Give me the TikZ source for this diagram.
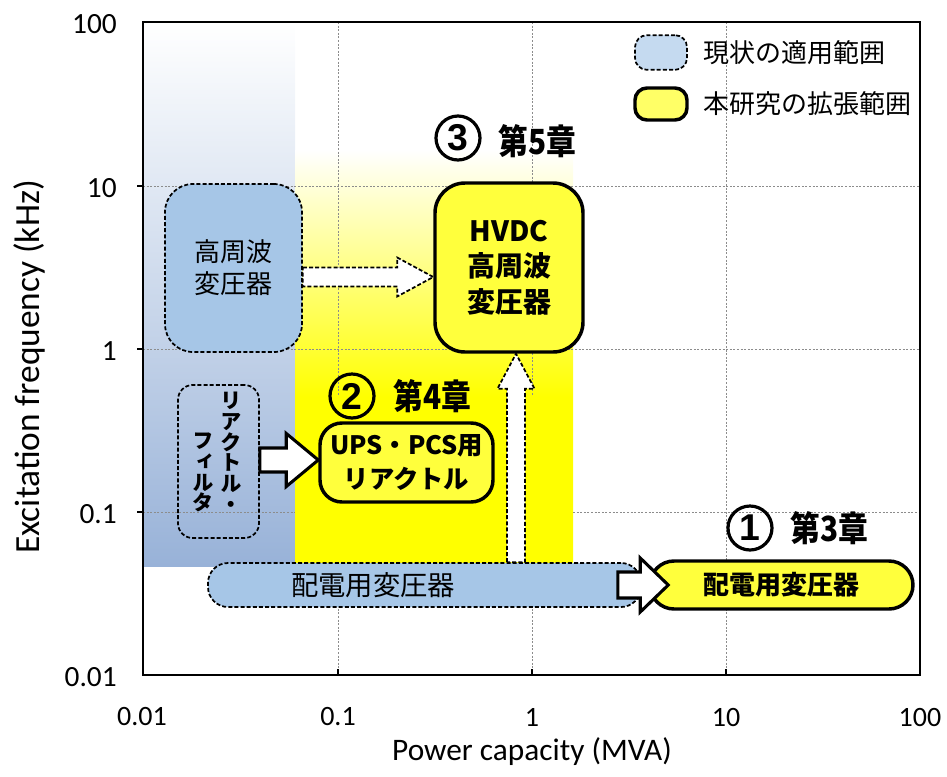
\documentclass[tikz,border=0pt]{standalone}
\usepackage{fontspec}
\usepackage{graphicx}
\setmainfont{Carlito}
\newfontfamily\jp{Noto Sans CJK JP}
\newfontfamily\jpv[RawFeature=+vert]{Noto Sans CJK JP}
\newfontfamily\arialf{Liberation Sans}
\usetikzlibrary{calc}
\newcommand{\setfs}[2]{\fontsize{#1}{#2}\selectfont}
\definecolor{boxblue}{RGB}{166,198,231}
\definecolor{legblue}{RGB}{197,218,240}
\definecolor{regblue}{RGB}{152,178,216}
\definecolor{boxyel}{RGB}{255,255,60}
\definecolor{legyel}{RGB}{255,255,102}
\definecolor{gridc}{RGB}{140,140,140}
\pgfdeclareverticalshading{yreg}{100bp}{color(0bp)=(yellow); color(25bp)=(yellow); color(45bp)=(yellow); color(75bp)=(white); color(100bp)=(white)}
% block arrow to the right: style, start, tip, shaft half, head half, head length
\newcommand{\rarrow}[6]{\draw[#1] let \p1=(#2), \p2=(#3) in
  (\x1,\y1+#4) -- (\x2-#6,\y1+#4) -- (\x2-#6,\y1+#5) -- (\x2,\y1) --
  (\x2-#6,\y1-#5) -- (\x2-#6,\y1-#4) -- (\x1,\y1-#4) -- cycle;}
% block arrow upwards
\newcommand{\uarrow}[6]{\draw[#1] let \p1=(#2), \p2=(#3) in
  (\x1-#4,\y1) -- (\x1-#4,\y2-#6) -- (\x1-#5,\y2-#6) -- (\x1,\y2) --
  (\x1+#5,\y2-#6) -- (\x1+#4,\y2-#6) -- (\x1+#4,\y1) -- cycle;}
\begin{document}
\begin{tikzpicture}[x=0.75pt,y=-0.75pt,
  gridline/.style={draw=gridc, line width=0.6pt, dash pattern=on 1.5pt off 1.2pt},
  curbox/.style={draw=black, line width=1.3pt, dash pattern=on 3pt off 1.6pt, fill=boxblue, inner sep=0pt, align=center},
  newbox/.style={draw=black, line width=2.6pt, fill=boxyel, inner sep=0pt, align=center},
  dasharrow/.style={draw=black, line width=1.3pt, dash pattern=on 3pt off 1.6pt, fill=white, line join=miter},
  solidarrow/.style={draw=black, line width=2.3pt, fill=white, line join=miter},
  circ/.style={circle, draw=black, line width=2.4pt, minimum size=33pt, inner sep=0pt, font=\arialf\bfseries\setfs{28}{28}},
  chap/.style={anchor=west, inner sep=0pt, font=\jp\bfseries\setfs{26}{26}},
  ytick/.style={anchor=east, inner sep=0pt, font=\setfs{22}{22}},
  xtick/.style={anchor=center, inner sep=0pt, font=\setfs{21}{21}},
  legtext/.style={anchor=west, inner sep=0pt, font=\jp\setfs{19.5}{19.5}}]
\useasboundingbox (0,0) rectangle (947,776);
% regions
\shade[top color=white, bottom color=regblue] (143,22) rectangle (295,566);
\shade[shading=yreg] (295,150) rectangle (573,562);
% grid
\foreach \gx in {338,532} {\draw[gridline] (\gx,22) -- (\gx,395); \draw[gridline] (\gx,562) -- (\gx,675);}
\draw[gridline] (726,22) -- (726,675);
\foreach \gy in {186,349} \draw[gridline] (143,\gy) -- (920,\gy);
\draw[gridline] (143,512) -- (295,512);
\draw[gridline] (573,512) -- (920,512);
% frame and ticks
\draw[line width=1.1pt] (143,22) rectangle (920,675);
\foreach \gy in {186,349,512} \draw[line width=1.1pt] (137,\gy) -- (143,\gy);
\foreach \gx in {338,532,726} \draw[line width=1.1pt] (\gx,675) -- (\gx,669);
% tick labels
\node[ytick] (y100) at (117,24) {100};
\node[ytick] (y10) at (117,188) {10};
\node[ytick] (y1) at (117,351) {1};
\node[ytick] (y01) at (117,514) {0.1};
\node[ytick] (y001) at (117,677) {0.01};
\node[xtick] (x001) at (142,717) {0.01};
\node[xtick] (x01) at (338,717) {0.1};
\node[xtick] (x1) at (532,717) {1};
\node[xtick] (x10) at (726,717) {10};
\node[xtick] (x100) at (920,717) {100};
\node[inner sep=0pt, font=\setfs{23.5}{23.5}] (xlab) at (532,752) {Power capacity (MVA)};
\node[inner sep=0pt, font=\setfs{26.5}{26.5}, rotate=90] (ylab) at (29,367) {Excitation frequency (kHz)};
% legend
\node[curbox, fill=legblue, minimum width=39pt, minimum height=26pt, rounded corners=9pt] (leg1) at (661,52.5) {};
\node[newbox, fill=legyel, minimum width=39pt, minimum height=24pt, rounded corners=9pt] (leg2) at (661,104) {};
\node[legtext] (leg1t) at (703,52.5) {現状の適用範囲};
\node[legtext] (leg2t) at (703,104) {本研究の拡張範囲};
% boxes
\node[curbox, minimum width=102.75pt, minimum height=126pt, rounded corners=21pt,
      font=\jp\setfs{19.5}{24}] (hf) at (233.5,268) {高周波\\変圧器};
\node[newbox, minimum width=111pt, minimum height=126.75pt, rounded corners=22.5pt,
      font=\jp\bfseries\setfs{21}{26.5}] (hvdc) at (509,267.5) {HVDC\\高周波\\変圧器};
\node[curbox, fill=none, minimum width=60.75pt, minimum height=114.75pt, rounded corners=11pt] (rf) at (218.5,461.5) {};
\node[anchor=north, inner sep=0pt, align=center, font=\jpv\bfseries\setfs{16}{15.5}] (rfr) at (231,392) {リ\\ア\\ク\\ト\\ル\\・};
\node[anchor=north, inner sep=0pt, align=center, font=\jpv\bfseries\setfs{16}{15.5}] (rfl) at (203,433) {フ\\ィ\\ル\\タ};
\node[newbox, minimum width=129.75pt, minimum height=59.25pt, rounded corners=16.5pt,
      font=\jp\bfseries\setfs{19}{26}] (ups) at (406.5,462.5) {UPS・PCS用\\リアクトル};
\node[curbox, minimum width=324.75pt, minimum height=33pt, rounded corners=15pt,
      font=\jp\setfs{20.5}{20.5}] (ds) at (424.5,585) {\hspace*{-77pt}配電用変圧器};
\node[newbox, minimum width=197.25pt, minimum height=36pt, rounded corners=18pt,
      font=\jp\bfseries\setfs{19.5}{19.5}] (dy) at (781.5,585) {配電用変圧器};
% chapter markers
\node[circ] (c3) at (458,138) {3};
\node[chap] (t3) at (498,141) {\scalebox{0.86}[1]{第5章}};
\node[circ] (c2) at (352,396) {2};
\node[chap] (t2) at (393,396) {\scalebox{0.86}[1]{第4章}};
\node[circ] (c1) at (750,528) {1};
\node[chap] (t1) at (790,528) {\scalebox{0.86}[1]{第3章}};
% arrows
\coordinate (a1s) at ($(hf.east)+(0,9)$);
\coordinate (a1e) at (hvdc.west |- a1s);
\rarrow{dasharrow}{a1s}{a1e}{7.1pt}{14.6pt}{27pt}
\coordinate (a2s) at ($(rf.east)+(0,-1.5)$);
\coordinate (a2e) at (ups.west |- a2s);
\rarrow{solidarrow}{a2s}{a2e}{9pt}{19.9pt}{24pt}
\coordinate (a4s) at ($(ds.north)+(91.5,0)$);
\coordinate (a4e) at (a4s |- hvdc.south);
\uarrow{dasharrow}{a4s}{a4e}{6.75pt}{13.9pt}{26.25pt}
\coordinate (a3s) at ($(ds.east)+(-24,0)$);
\coordinate (a3e) at ($(dy.west)+(20,0)$);
\rarrow{solidarrow}{a3s}{a3e}{9.75pt}{20.25pt}{21pt}
\end{tikzpicture}
\end{document}
